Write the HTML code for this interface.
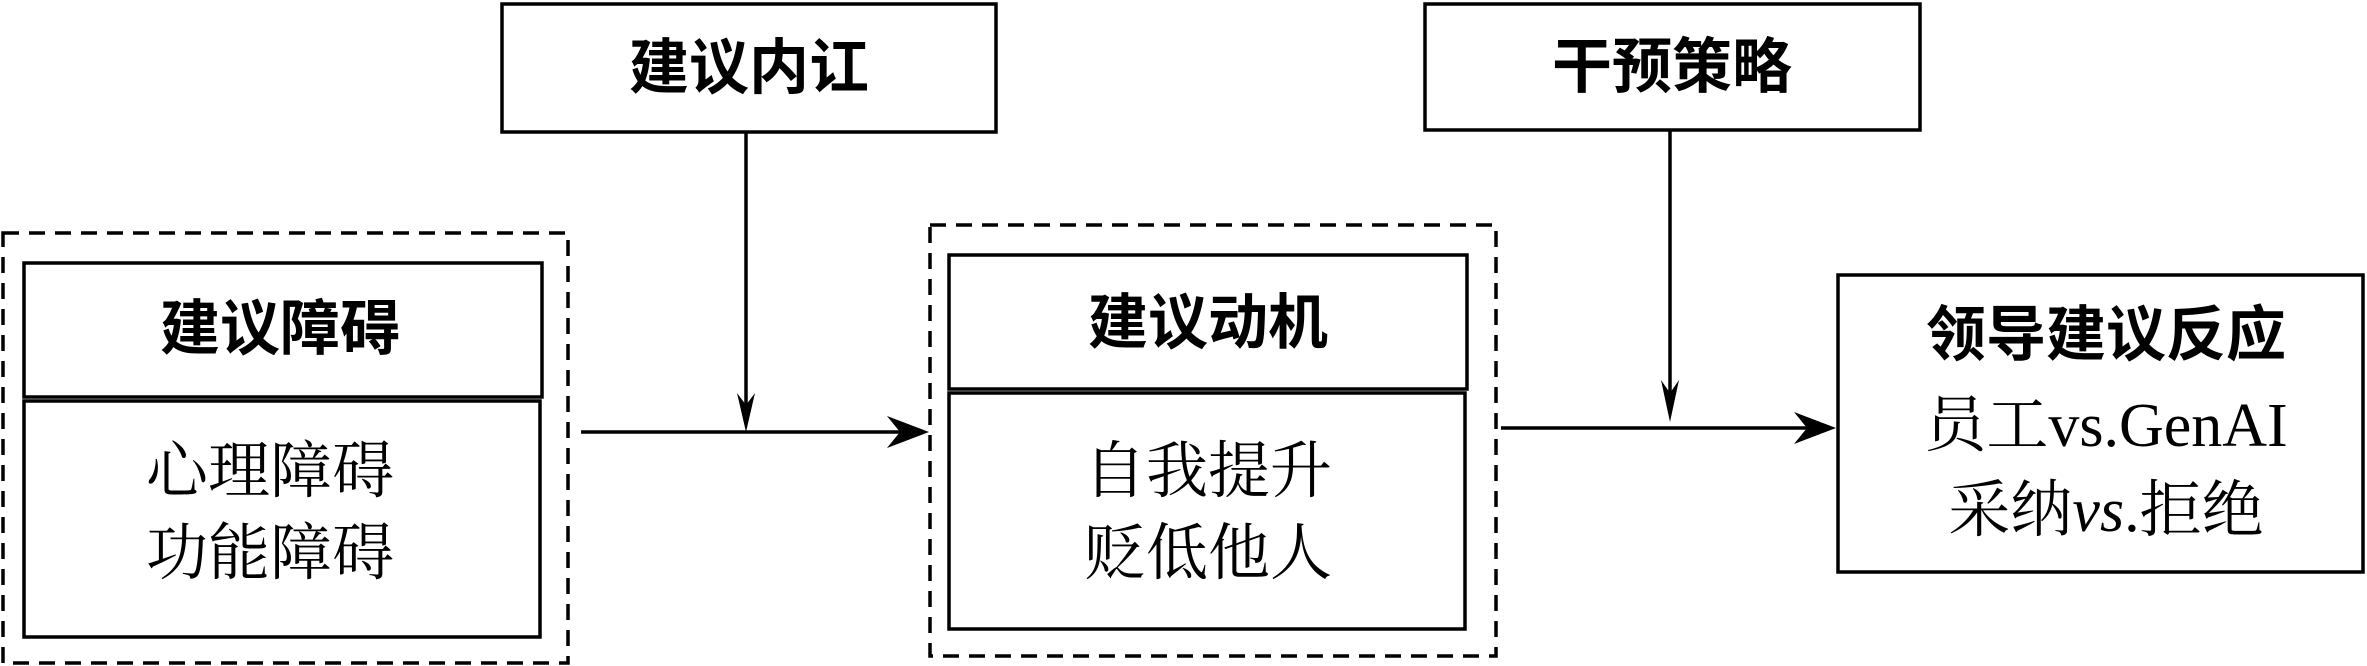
<!DOCTYPE html>
<html><head><meta charset="utf-8"><style>
html,body{margin:0;padding:0;background:#fff;}
svg{display:block;}
.b{font-family:"Liberation Sans","Noto Sans CJK SC",sans-serif;font-weight:700;font-size:60px;}
.r{font-family:"Liberation Serif","Noto Serif CJK SC",serif;font-size:62px;}
</style></head><body>
<svg width="2367" height="666" viewBox="0 0 2367 666" xmlns="http://www.w3.org/2000/svg">
<g fill="none" stroke="#000" stroke-width="3.5">
<rect x="502" y="4" width="494" height="128"/>
<rect x="1425" y="4" width="495" height="126"/>
<rect x="3" y="233" width="565" height="430" stroke-dasharray="16,10"/>
<rect x="24" y="263" width="518" height="134"/>
<rect x="24" y="401" width="516" height="236"/>
<rect x="930" y="225" width="566" height="431" stroke-dasharray="16,10"/>
<rect x="949" y="255" width="518" height="134"/>
<rect x="949" y="393" width="516" height="236"/>
<rect x="1838" y="275" width="525" height="297"/>
<line x1="746" y1="132" x2="746" y2="412"/>
<line x1="581" y1="432" x2="905" y2="432"/>
<line x1="1670" y1="130" x2="1670" y2="402"/>
<line x1="1501" y1="428" x2="1815" y2="428"/>
</g>
<g fill="#000">
<polygon points="746,432 737,393 746,405 755,393"/>
<polygon points="929,432 887,416 900,432 887,448"/>
<polygon points="1670,422 1661,380 1670,393 1679,380"/>
<polygon points="1836,428 1794,412 1807,428 1794,444"/>
</g>
<g text-anchor="middle" dominant-baseline="central">
<text class="b" x="749" y="68">建议内讧</text>
<text class="b" x="1672" y="67">干预策略</text>
<text class="b" x="280" y="329">建议障碍</text>
<text class="r" x="270" y="472">心理障碍</text>
<text class="r" x="270" y="554">功能障碍</text>
<text class="b" x="1208" y="323">建议动机</text>
<text class="r" x="1208" y="472">自我提升</text>
<text class="r" x="1208" y="554">贬低他人</text>
<text class="b" x="2106" y="335">领导建议反应</text>
<text class="r" x="2106" y="426">员工vs.GenAI</text>
<text class="r" x="2106" y="511">采纳<tspan font-style="italic">vs</tspan>.拒绝</text>
</g>
</svg>
</body></html>
